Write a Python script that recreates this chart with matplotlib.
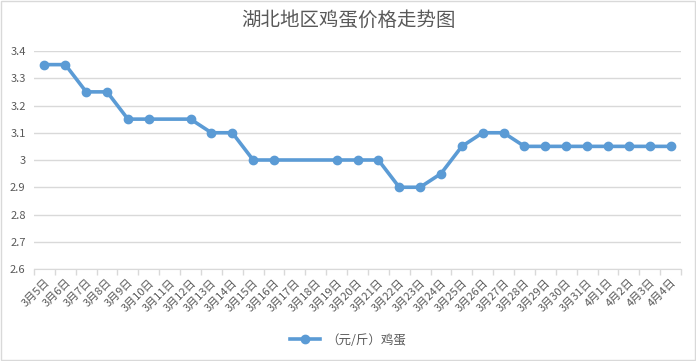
import matplotlib
matplotlib.use('Agg')
import matplotlib.pyplot as plt
import numpy as np

plt.rcParams['font.family'] = ['Noto Sans CJK SC', 'DejaVu Sans']

#数据
dates = ['3月5日', '3月6日', '3月7日', '3月8日', '3月9日', '3月10日', '3月11日', '3月12日',
         '3月13日', '3月14日', '3月15日', '3月16日', '3月17日', '3月18日', '3月19日', '3月20日',
         '3月21日', '3月22日', '3月23日', '3月24日', '3月25日', '3月26日', '3月27日', '3月28日',
         '3月29日', '3月30日', '3月31日', '4月1日', '4月2日', '4月3日', '4月4日']
# 缺失的日期用 nan
prices = [3.35, 3.35, 3.25, 3.25, 3.15, 3.15, np.nan, 3.15,
          3.10, 3.10, 3.00, 3.00, np.nan, np.nan, 3.00, 3.00,
          3.00, 2.90, 2.90, 2.95, 3.05, 3.10, 3.10, 3.05,
          3.05, 3.05, 3.05, 3.05, 3.05, 3.05, 3.05]
series_name = '（元/斤）鸡蛋'
title = '湖北地区鸡蛋价格走势图'
yticks = [2.6, 2.7, 2.8, 2.9, 3.0, 3.1, 3.2, 3.3, 3.4]
ytick_labels = ['2.6', '2.7', '2.8', '2.9', '3', '3.1', '3.2', '3.3', '3.4']

grey = '#595959'
blue = '#5B9BD5'

fig = plt.figure(figsize=(6.96, 3.61), dpi=100)
ax = fig.add_axes([34 / 696, 1 - 269 / 361, (681 - 34) / 696, (269 - 51) / 361])

x = np.arange(len(dates))
y = np.array(prices)
ok = ~np.isnan(y)
# 缺失点不画标记，线直接连过去
ax.plot(x[ok], y[ok], color=blue, lw=2.6, marker='o', ms=6, mec=blue, mfc=blue,
        label=series_name, solid_joinstyle='round')

ax.set_xlim(-0.5, len(dates) - 0.5)
ax.set_ylim(2.6, 3.4)
ax.set_yticks(yticks)
ax.set_yticklabels(ytick_labels)
ax.yaxis.grid(True, color='#d9d9d9', lw=1)
ax.set_axisbelow(True)
ax.tick_params(axis='y', length=0, colors=grey, labelsize=8, pad=6)

# 分类边界上的刻度
ax.set_xticks(np.arange(len(dates) + 1) - 0.5)
ax.set_xticklabels([])
ax.tick_params(axis='x', which='major', length=4, color='#d9d9d9', width=1)
ax.set_xticks(x, minor=True)
ax.set_xticklabels(dates, minor=True, rotation=45, ha='right', va='top',
                   rotation_mode='anchor', color=grey, fontsize=8)
ax.tick_params(axis='x', which='minor', length=0, pad=6)

for s in ['left', 'right', 'top']:
    ax.spines[s].set_visible(False)
ax.spines['bottom'].set_color('#d9d9d9')

fig.text(0.5, 1 - 20 / 361, title, ha='center', va='center', fontsize=14,
         color=grey, fontweight='light')
fig.legend(loc='center', bbox_to_anchor=(0.5, 1 - 340 / 361), frameon=False,
           fontsize=9, labelcolor=grey, handlelength=2.4, handletextpad=0.5)

# 外边框
fig.patches.append(plt.Rectangle((0.001, 0.002), 0.997, 0.995, transform=fig.transFigure,
                                 fill=False, ec='#d9d9d9', lw=1))

fig.savefig('out.png', dpi=100)
